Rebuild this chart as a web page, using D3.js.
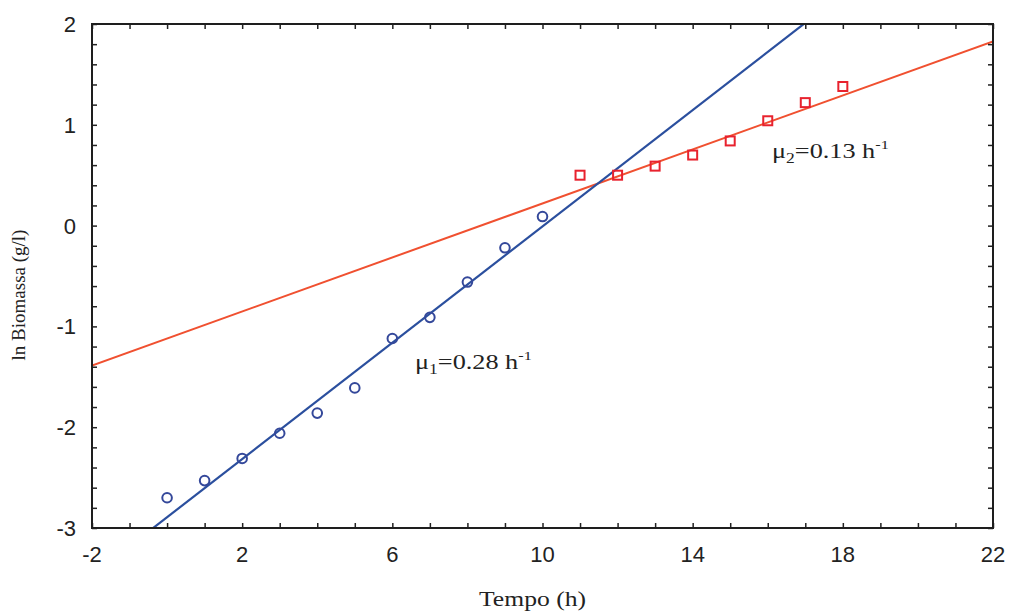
<!DOCTYPE html>
<html><head><meta charset="utf-8">
<script src="https://cdn.jsdelivr.net/npm/d3@7"></script>
<style>body{margin:0;background:#fff}svg{display:block}</style>
</head><body>
<svg id="c" width="1012" height="615"></svg>
<script>
const phase1X = [0,1,2,3,4,5,6,7,8,9,10];
const phase1Y = [-2.70,-2.53,-2.31,-2.06,-1.86,-1.61,-1.12,-0.91,-0.56,-0.22,0.09];
const phase2X = [11,12,13,14,15,16,17,18];
const phase2Y = [0.50,0.50,0.59,0.70,0.84,1.04,1.22,1.38];
const fit1 = {slope:0.2885, intercept:-2.893};
const fit2 = {slope:0.134, intercept:-1.12};
const xTicks = [-2,2,6,10,14,18,22];
const yTicks = [-3,-2,-1,0,1,2];

(function(){
const svg = d3.select("#c");
const L=92,R=993,T=24,B=528;
const x = d3.scaleLinear().domain([-2,22]).range([L,R]);
const y = d3.scaleLinear().domain([-3,2]).range([B,T]);

const g = svg.append("g");
svg.append("clipPath").attr("id","cp").append("rect")
  .attr("x",L).attr("y",T).attr("width",R-L).attr("height",B-T);

function fitLine(f){
  return [-2,22].map(v=>[v,f.slope*v+f.intercept]);
}
const line = d3.line().x(d=>x(d[0])).y(d=>y(d[1]));
g.append("path").attr("clip-path","url(#cp)").attr("d",line(fitLine(fit2)))
  .attr("stroke","#f05030").attr("stroke-width",2).attr("fill","none");
g.append("path").attr("clip-path","url(#cp)").attr("d",line(fitLine(fit1)))
  .attr("stroke","#2b4f9e").attr("stroke-width",2.2).attr("fill","none");

g.selectAll("circle.p1").data(phase1X.map((v,i)=>[v,phase1Y[i]])).enter()
  .append("circle").attr("cx",d=>x(d[0])).attr("cy",d=>y(d[1])).attr("r",4.8)
  .attr("fill","none").attr("stroke","#34489a").attr("stroke-width",2);
g.selectAll("rect.p2").data(phase2X.map((v,i)=>[v,phase2Y[i]])).enter()
  .append("rect").attr("x",d=>x(d[0])-4.5).attr("y",d=>y(d[1])-4.5)
  .attr("width",9).attr("height",9)
  .attr("fill","none").attr("stroke","#e8222e").attr("stroke-width",2);

const ax = svg.append("g");
const aBot = d3.axisBottom(x).tickValues(d3.range(-2,23,1)).tickSize(-5).tickFormat("");
const aTop = d3.axisTop(x).tickValues(d3.range(-2,23,1)).tickSize(-5).tickFormat("");
const aLef = d3.axisLeft(y).tickValues(d3.range(-3,2.01,0.2)).tickSize(-5).tickFormat("");
const aRig = d3.axisRight(y).tickValues(d3.range(-3,2.01,0.2)).tickSize(-5).tickFormat("");
ax.append("g").attr("transform",`translate(0,${B})`).call(aBot);
ax.append("g").attr("transform",`translate(0,${T})`).call(aTop);
ax.append("g").attr("transform",`translate(${L},0)`).call(aLef);
ax.append("g").attr("transform",`translate(${R},0)`).call(aRig);
ax.selectAll(".domain").remove();
ax.selectAll("line").attr("stroke","#222").attr("stroke-width",1.5);
svg.append("rect").attr("x",L).attr("y",T).attr("width",R-L).attr("height",B-T)
  .attr("fill","none").attr("stroke","#1e1e1e").attr("stroke-width",2);

svg.selectAll("text.xt").data(xTicks).enter().append("text")
  .attr("x",d=>x(d)).attr("y",B+34).attr("text-anchor","middle")
  .attr("font-family","Liberation Sans, Arial").attr("font-size",22).attr("fill","#222")
  .text(d=>d);
svg.selectAll("text.yt").data(yTicks).enter().append("text")
  .attr("x",L-16).attr("y",d=>y(d)+8).attr("text-anchor","end")
  .attr("font-family","Liberation Sans, Arial").attr("font-size",22).attr("fill","#222")
  .text(d=>d);

svg.append("text").attr("x",479).attr("y",606)
  .attr("textLength",107).attr("lengthAdjust","spacingAndGlyphs")
  .attr("font-family","Liberation Serif, Times New Roman").attr("font-size",20).attr("fill","#222")
  .text("Tempo (h)");
svg.append("text").attr("transform",`translate(25,${(T+B)/2+19}) rotate(-90)`)
  .attr("text-anchor","middle")
  .attr("font-family","Liberation Serif, Times New Roman").attr("font-size",19).attr("fill","#222")
  .text("ln Biomassa (g/l)");

function ann(px,py,sub,val){
  const t = svg.append("text").attr("transform",`translate(${px},${py}) scale(1.25,1)`)
    .attr("font-family","Liberation Serif, Times New Roman").attr("font-size",21).attr("fill","#222");
  t.append("tspan").text("μ");
  t.append("tspan").attr("font-size",14).attr("dy",5).text(sub);
  t.append("tspan").attr("dy",-5).text("=" + val + " h");
  t.append("tspan").attr("font-size",13).attr("dy",-9).text("-1");
}
ann(415,369,"1","0.28");
ann(772,158,"2","0.13");
})();
</script>
</body></html>
